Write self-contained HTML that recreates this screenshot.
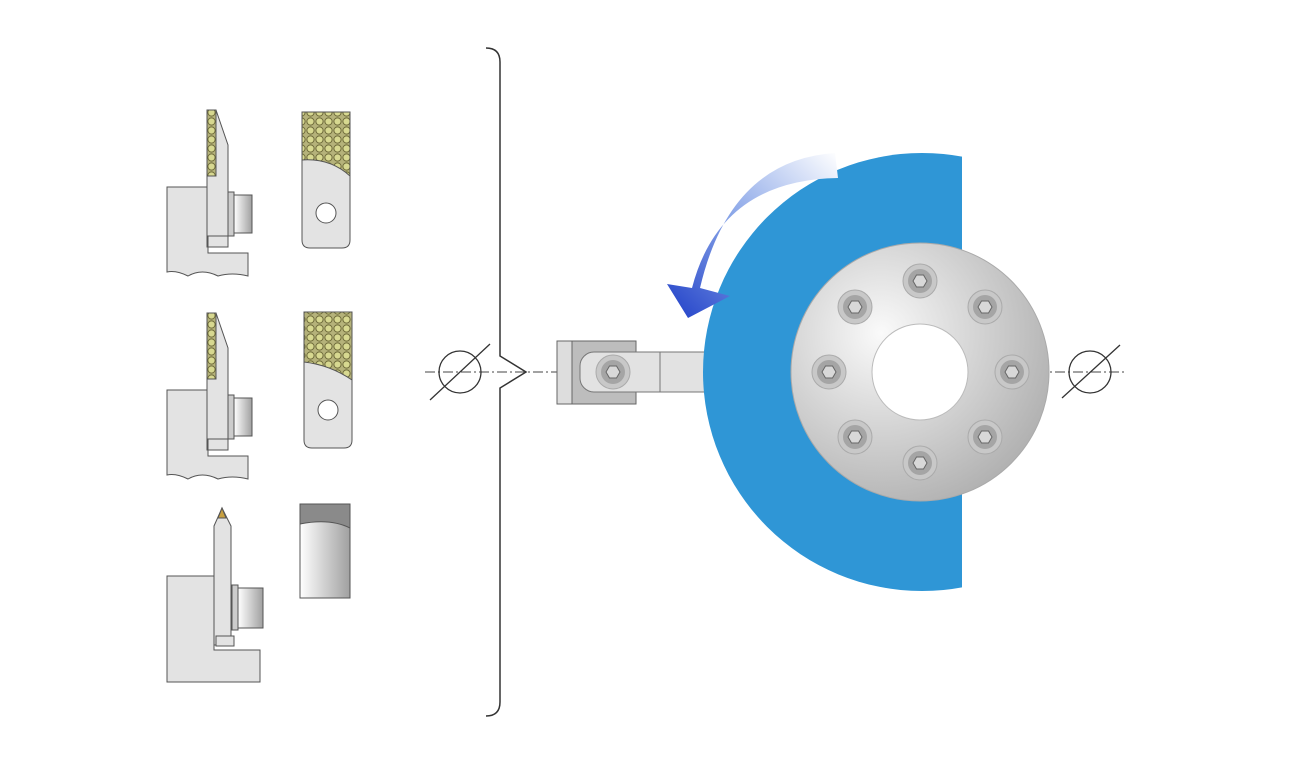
<!DOCTYPE html>
<html><head><style>body{margin:0;background:#fff}svg{display:block}</style></head><body>
<svg width="1290" height="766" viewBox="0 0 1290 766" xmlns="http://www.w3.org/2000/svg">
<defs>
<linearGradient id="arr" x1="1" y1="0" x2="0" y2="1"><stop offset="0" stop-color="#fff"/><stop offset="0.5" stop-color="#8aa6e8"/><stop offset="1" stop-color="#1f3fc8"/></linearGradient>
<radialGradient id="hub" cx="0.35" cy="0.35" r="0.8"><stop offset="0" stop-color="#fafafa"/><stop offset="1" stop-color="#a8a8a8"/></radialGradient>
<linearGradient id="cyl" x1="0" y1="0" x2="1" y2="0"><stop offset="0" stop-color="#fff"/><stop offset="1" stop-color="#a0a0a0"/></linearGradient>
<pattern id="grit" width="9" height="9" patternUnits="userSpaceOnUse"><rect width="9" height="9" fill="#b5b27a"/><circle cx="4.5" cy="4.5" r="3.6" fill="#d7d890" stroke="#6e6b3a" stroke-width="1"/></pattern>
<clipPath id="wc"><rect x="600" y="100" width="362" height="560"/></clipPath>
<g id="bolt"><circle r="17" fill="#c8c8c8" stroke="#aaa"/><circle r="12" fill="#a5a5a5"/><polygon points="-7,0 -3.5,-6 3.5,-6 7,0 3.5,6 -3.5,6" fill="#d8d8d8" stroke="#666"/></g>
<g id="tool" stroke="#555" stroke-width="1">
<path d="M167,187 H208 V253 H248 V276 Q232,272 218,276 Q202,268 188,276 Q176,270 167,272 Z" fill="#e3e3e3"/>
<path d="M207,110 H216 L228,145 V247 H207 Z" fill="#e3e3e3"/>
<rect x="207" y="110" width="9" height="66" fill="url(#grit)"/>
<rect x="208" y="236" width="20" height="11" fill="#e3e3e3"/>
<rect x="228" y="192" width="6" height="44" fill="#ccc"/>
<rect x="234" y="195" width="18" height="38" fill="url(#cyl)"/>
</g>
</defs>
<!-- bracket -->
<path d="M486,48 Q500,48 500,62 V356 L526,372 L500,388 V702 Q500,716 486,716" fill="none" stroke="#333" stroke-width="1.5"/>
<!-- centerline -->
<line x1="425" y1="372" x2="1125" y2="372" stroke="#444" stroke-dasharray="10,3,2,3"/>
<g fill="none" stroke="#333" stroke-width="1.3"><circle cx="460" cy="372" r="21"/><line x1="430" y1="400" x2="490" y2="344"/><circle cx="1090" cy="372" r="21"/><line x1="1062" y1="398" x2="1120" y2="345"/></g>
<!-- left tools -->
<use href="#tool"/>
<use href="#tool" y="203"/>
<g stroke="#555"><path d="M167,576 H214 V650 H260 V682 H167 Z" fill="#e3e3e3"/><path d="M214,526 L222,508 L231,526 V645 H214 Z" fill="#e3e3e3"/><path d="M218,518 L222,508 L226,518Z" fill="#c8a040"/><rect x="232" y="585" width="6" height="45" fill="#ccc"/><rect x="238" y="588" width="25" height="40" fill="url(#cyl)"/><rect x="216" y="636" width="18" height="10" fill="#e3e3e3"/></g>
<!-- inserts -->
<g stroke="#555"><path d="M302,112 H350 V240 Q350,248 342,248 H310 Q302,248 302,240 Z" fill="#e3e3e3"/><path d="M302,112 H350 V176 Q330,158 302,160 Z" fill="url(#grit)"/><circle cx="326" cy="213" r="10" fill="#fff"/>
<path d="M304,312 H352 V440 Q352,448 344,448 H312 Q304,448 304,440 Z" fill="#e3e3e3"/><path d="M304,312 H352 V380 Q330,365 304,362 Z" fill="url(#grit)"/><circle cx="328" cy="410" r="10" fill="#fff"/>
<rect x="300" y="504" width="50" height="94" fill="url(#cyl)"/><path d="M300,504 H350 V528 Q330,518 300,524 Z" fill="#8a8a8a"/></g>
<!-- holder -->
<path d="M557,341 H572 V404 H557 Z" fill="#ddd" stroke="#666"/>
<rect x="572" y="341" width="64" height="63" fill="#bdbdbd" stroke="#666"/>
<rect x="580" y="352" width="126" height="40" rx="14" fill="#e2e2e2" stroke="#777"/>
<rect x="660" y="352" width="46" height="40" fill="#e2e2e2" stroke="#777"/>
<use href="#bolt" x="613" y="372"/>
<!-- wheel -->
<circle cx="922" cy="372" r="219" fill="#2f96d6" clip-path="url(#wc)"/>
<circle cx="920" cy="372" r="129" fill="url(#hub)" stroke="#aaa"/>
<circle cx="920" cy="372" r="48" fill="#fff" stroke="#bbb"/>
<g><use href="#bolt" x="920" y="281"/><use href="#bolt" x="985" y="307"/><use href="#bolt" x="1012" y="372"/><use href="#bolt" x="985" y="437"/><use href="#bolt" x="920" y="463"/><use href="#bolt" x="855" y="437"/><use href="#bolt" x="829" y="372"/><use href="#bolt" x="855" y="307"/></g>
<!-- arrow -->
<path d="M835,153 Q730,160 700,288 L730,296 L688,318 L667,284 L692,288 Q720,180 838,178 Z" fill="url(#arr)"/>
</svg>
</body></html>
